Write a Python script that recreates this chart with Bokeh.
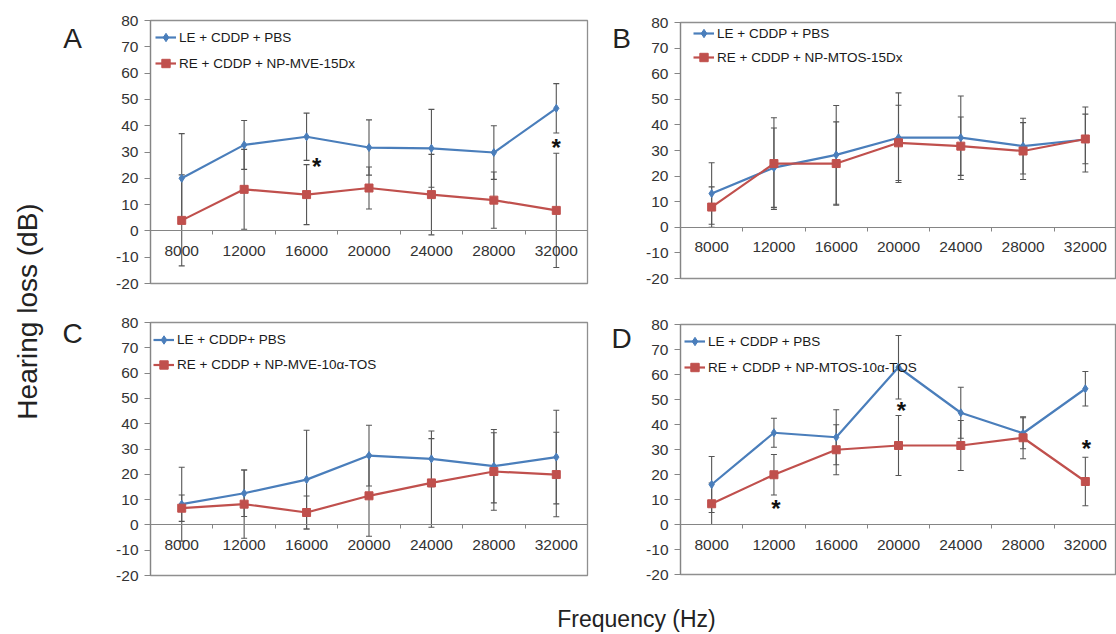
import math
from bokeh.plotting import figure
from bokeh.models import (Range1d, FixedTicker, LinearAxis, Whisker, TeeHead,
                          ColumnDataSource, Legend, LegendItem)
from bokeh.layouts import row, column
from bokeh.core.properties import value
from bokeh.embed import file_html
from bokeh.resources import INLINE

# ---------------- data ----------------
freqs = ["8000", "12000", "16000", "20000", "24000", "28000", "32000"]
yticks = [-20, -10, 0, 10, 20, 30, 40, 50, 60, 70, 80]

# Panel A
le_A = [20.0, 32.7, 35.8, 31.7, 31.4, 29.8, 46.6]
le_A_err = [17.0, 9.3, 9.0, 10.5, 14.8, 10.2, 9.4]
re_A = [4.0, 15.8, 13.8, 16.3, 13.8, 11.7, 7.8]
re_A_err = [17.3, 15.2, 11.4, 8.0, 15.3, 10.7, 21.7]
labels_A = ["LE + CDDP + PBS", "RE + CDDP + NP-MVE-15Dx"]
stars_A_f = ["16000", "32000"]
stars_A_y = [25.6, 32.7]

# Panel B
le_B = [13.2, 23.3, 28.3, 35.0, 35.0, 31.7, 34.3]
le_B_err = [12.0, 15.5, 19.3, 17.5, 16.3, 10.9, 12.7]
re_B = [7.9, 24.9, 24.9, 33.0, 31.7, 29.8, 34.5]
re_B_err = [7.9, 17.9, 16.3, 14.7, 11.4, 11.1, 9.7]
labels_B = ["LE + CDDP + PBS", "RE + CDDP + NP-MTOS-15Dx"]
stars_B_f = []
stars_B_y = []

# Panel C
le_C = [8.2, 12.5, 17.9, 27.4, 26.1, 23.2, 26.8]
le_C_err = [14.6, 9.2, 19.5, 12.0, 11.0, 14.5, 18.5]
re_C = [6.6, 8.2, 4.9, 11.5, 16.6, 21.1, 19.9]
re_C_err = [5.2, 13.5, 6.5, 16.0, 17.5, 15.3, 16.7]
labels_C = ["LE + CDDP+ PBS", "RE + CDDP + NP-MVE-10α-TOS"]
stars_C_f = []
stars_C_y = []

# Panel D
le_D = [16.0, 36.7, 34.9, 62.9, 44.7, 36.5, 54.3]
le_D_err = [11.2, 5.8, 11.0, 12.7, 10.2, 6.2, 6.9]
re_D = [8.3, 19.9, 29.9, 31.6, 31.6, 34.7, 17.2]
re_D_err = [8.3, 8.1, 10.0, 12.0, 10.0, 8.4, 9.7]
labels_D = ["LE + CDDP + PBS", "RE + CDDP + NP-MTOS-10α-TOS"]
stars_D_f = ["12000", "20000", "32000"]
stars_D_y = [7.6, 46.7, 31.6]

# ---------------- styles ----------------
FONT = "Liberation Sans"
BLUE = "#4a7ebb"
RED = "#c0504d"
ERR = "#555555"
AX = "#858585"
TXT = "#333333"


def panel(le, le_err, re, re_err, labels, stars_f, stars_y, star_dx,
          fw, fh, bl, br, bt, bb, leg_x, leg_top, item_h):
    n = len(freqs)
    xs = list(range(1, n + 1))
    p = figure(frame_width=fw, frame_height=fh,
               x_range=Range1d(0.5, n + 0.5), y_range=Range1d(yticks[0], yticks[-1]),
               output_backend="svg", toolbar_location=None,
               x_axis_location=None, y_axis_location=None,
               min_border_left=bl, min_border_right=br,
               min_border_top=bt, min_border_bottom=bb)
    p.grid.visible = False
    p.outline_line_color = "#8f8f8f"
    p.outline_line_width = 1.3
    p.background_fill_color = "white"
    p.border_fill_color = "white"

    # y axis
    yax = LinearAxis(ticker=FixedTicker(ticks=yticks, minor_ticks=[]),
                     major_label_overrides={t: str(t) for t in yticks},
                     axis_line_color=AX, axis_line_width=1.2,
                     major_tick_out=6, major_tick_in=0,
                     minor_tick_out=0, minor_tick_in=0,
                     major_tick_line_color=AX,
                     major_label_standoff=6,
                     major_label_text_font=FONT,
                     major_label_text_font_size="15.5px",
                     major_label_text_color=TXT)
    p.add_layout(yax, "left")

    # x axis fixed at y = 0
    bounds = [x + 0.5 for x in xs[:-1]]
    xax = LinearAxis(ticker=FixedTicker(ticks=xs, minor_ticks=bounds),
                     major_label_overrides={x: f for x, f in zip(xs, freqs)},
                     fixed_location=0,
                     axis_line_color=AX, axis_line_width=1.2,
                     major_tick_out=0, major_tick_in=0,
                     minor_tick_out=4, minor_tick_in=0,
                     minor_tick_line_color=AX,
                     major_label_standoff=11,
                     major_label_text_font=FONT,
                     major_label_text_font_size="15.5px",
                     major_label_text_color=TXT)
    p.add_layout(xax, "below")

    # error bars
    for m, e in ((le, le_err), (re, re_err)):
        src = ColumnDataSource(dict(x=xs,
                                    lower=[a - b for a, b in zip(m, e)],
                                    upper=[a + b for a, b in zip(m, e)]))
        w = Whisker(source=src, base="x", lower="lower", upper="upper",
                    dimension="height", line_color=ERR, line_width=1.1,
                    upper_head=TeeHead(size=6, line_color=ERR, line_width=1.1),
                    lower_head=TeeHead(size=6, line_color=ERR, line_width=1.1))
        p.add_layout(w)

    l1 = p.line(xs, le, line_color=BLUE, line_width=2.2)
    s1 = p.scatter(xs, le, marker="diamond", size=8, fill_color=BLUE, line_color=BLUE)
    l2 = p.line(xs, re, line_color=RED, line_width=2.2)
    s2 = p.scatter(xs, re, marker="square", size=8, fill_color=RED, line_color=RED)

    if stars_f:
        sx = [xs[freqs.index(f)] for f in stars_f]
        p.text(x=sx, y=stars_y, text=["*"] * len(sx), x_offset=star_dx, y_offset=3,
               text_font=value(FONT), text_font_size="24px", text_font_style="bold",
               text_color="#111111", text_align="center", text_baseline="alphabetic")

    leg_h = 2 * item_h
    legend = Legend(items=[LegendItem(label=labels[0], renderers=[l1, s1]),
                           LegendItem(label=labels[1], renderers=[l2, s2])],
                    location=(leg_x, fh - leg_top - leg_h),
                    margin=0, padding=0, spacing=0,
                    glyph_width=21, glyph_height=item_h, label_height=item_h,
                    label_standoff=3,
                    label_text_font=FONT, label_text_font_size="13.5px",
                    label_text_color="#1a1a1a",
                    border_line_color=None, background_fill_alpha=0)
    p.add_layout(legend)
    return p


def text_fig(w, h):
    f = figure(width=w, height=h, x_range=Range1d(0, w), y_range=Range1d(h, 0),
               output_backend="svg", toolbar_location=None,
               x_axis_location=None, y_axis_location=None,
               min_border=0, min_border_left=0, min_border_right=0,
               min_border_top=0, min_border_bottom=0)
    f.grid.visible = False
    f.outline_line_color = None
    return f


# figure geometry (screen px): A frame 150-587 x 20-283, C 150-587 x 322-575,
# B frame 680-1116 x 22-278, D 680-1116 x 324-574
pA = panel(le_A, le_A_err, re_A, re_A_err, labels_A, stars_A_f, stars_A_y, [10, 0],
           437, 263, 52, 2, 20, 14, 5, 4, 26)
pC = panel(le_C, le_C_err, re_C, re_C_err, labels_C, stars_C_f, stars_C_y, [],
           437, 253, 52, 2, 25, 12, 3, 5, 25)
pB = panel(le_B, le_B_err, re_B, re_B_err, labels_B, stars_B_f, stars_B_y, [],
           436, 256, 47, 0, 22, 19, 13, -1, 24)
pD = panel(le_D, le_D_err, re_D, re_D_err, labels_D, stars_D_f, stars_D_y, [2, 3, 1],
           436, 250, 47, 0, 27, 13, 4, 4, 26)

# left strip: y label and panel letters A, C
left = text_fig(98, 587)
left.text(x=[27], y=[311], text=["Hearing loss (dB)"], angle=math.pi / 2,
          text_font=value(FONT), text_font_size="28px", text_color="#222222",
          text_align="center", text_baseline="middle")
left.text(x=[72, 72], y=[38, 333], text=["A", "C"],
          text_font=value(FONT), text_font_size="28px", text_color="#222222",
          text_align="center", text_baseline="alphabetic")

# middle strip: panel letters B, D
mid = text_fig(44, 587)
mid.text(x=[32, 32], y=[38, 338], text=["B", "D"],
         text_font=value(FONT), text_font_size="28px", text_color="#222222",
         text_align="center", text_baseline="alphabetic")

# bottom strip: x label
bottom = text_fig(1116, 45)
bottom.text(x=[636], y=[31], text=["Frequency (Hz)"],
            text_font=value(FONT), text_font_size="23px", text_color="#222222",
            text_align="center", text_baseline="alphabetic")

layout = column(row(left, column(pA, pC, spacing=0), mid, column(pB, pD, spacing=0), spacing=0),
                bottom, spacing=0)

open("out.html", "w").write(file_html(layout, INLINE))
